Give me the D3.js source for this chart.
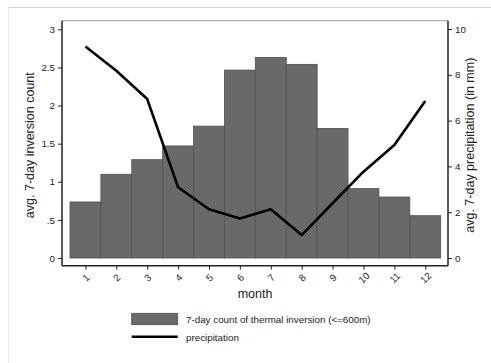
<!DOCTYPE html>
<html><head><meta charset="utf-8">
<script src="https://cdn.jsdelivr.net/npm/d3@7"></script>
<style>body{margin:0;background:#fff}svg{display:block;font-family:"Liberation Sans",Arial,sans-serif}</style>
</head><body>
<script>
const months = [1,2,3,4,5,6,7,8,9,10,11,12];
const inversion = [0.735,1.098,1.29,1.47,1.73,2.465,2.63,2.54,1.70,0.91,0.80,0.555];
const precipitation = [9.24,8.18,6.94,3.09,2.13,1.73,2.13,1.00,2.39,3.77,4.93,6.86];
const leftTicks = [0,0.5,1,1.5,2,2.5,3];
const leftTickLabels = ["0",".5","1","1.5","2","2.5","3"];
const rightTicks = [0,2,4,6,8,10];

const W=491,H=363;
const svg=d3.select("body").append("svg").attr("width",W).attr("height",H);
// outer faint frame
svg.append("line").attr("x1",8).attr("x2",W).attr("y1",7.5).attr("y2",7.5).attr("stroke","#d8d8d8");
svg.append("line").attr("x1",8.5).attr("x2",8.5).attr("y1",7).attr("y2",H).attr("stroke","#ececec");

const px0=62,px1=448,py0=20.7,py1=265.7;
const x=d3.scaleLinear().domain([0.5,12.5]).range([70,440.7]);
const yL=d3.scaleLinear().domain([0,3]).range([258,29.3]);
const yR=d3.scaleLinear().domain([0,10]).range([258,29]);

// plot frame top thin
svg.append("line").attr("x1",px0).attr("x2",px1).attr("y1",py0).attr("y2",py0).attr("stroke","#999").attr("stroke-width",1);

// bars
const bw=x(1.5)-x(0.5);
svg.append("g").selectAll("rect").data(months).join("rect")
  .attr("x",d=>x(d)-bw/2).attr("width",bw)
  .attr("y",(d,i)=>yL(inversion[i])).attr("height",(d,i)=>yL(0)-yL(inversion[i]))
  .attr("fill","#696969").attr("stroke","#505050").attr("stroke-width",0.8);

// line
svg.append("path").datum(months).attr("fill","none").attr("stroke","#000").attr("stroke-width",2.6)
  .attr("stroke-linejoin","round")
  .attr("d",d3.line().x(d=>x(d)).y((d,i)=>yR(precipitation[i])));

// axes
const gL=svg.append("g").attr("transform",`translate(${px0},0)`)
  .call(d3.axisLeft(yL).tickValues(leftTicks).tickFormat((d,i)=>leftTickLabels[i]).tickSize(4).tickPadding(3));
gL.select(".domain").attr("d",`M0,${py0}V${py1}`).attr("stroke","#222").attr("stroke-width",1.5);
const gR=svg.append("g").attr("transform",`translate(${px1},0)`)
  .call(d3.axisRight(yR).tickValues(rightTicks).tickSize(4).tickPadding(3));
gR.select(".domain").attr("d",`M0,${py0}V${py1}`).attr("stroke","#222").attr("stroke-width",1.5);
const gB=svg.append("g").attr("transform",`translate(0,${py1})`)
  .call(d3.axisBottom(x).tickValues(months).tickSize(4).tickPadding(3));
gB.select(".domain").attr("d",`M${px0},0H${px1}`).attr("stroke","#222").attr("stroke-width",1.5);
[gL,gR,gB].forEach(g=>{g.selectAll("text").attr("font-size",9.8).attr("fill","#222").attr("font-family","Liberation Sans, Arial, sans-serif");g.selectAll(".tick line").attr("stroke","#222");});
gB.selectAll("text").attr("text-anchor","middle").attr("y",0).attr("dy","0.35em")
  .attr("transform","translate(0,12) rotate(-45)");

// titles
svg.append("text").attr("x",255).attr("y",298).attr("text-anchor","middle").attr("font-size",12.5).attr("fill","#222").text("month");
svg.append("text").attr("transform",`translate(34,${(py0+py1)/2+2}) rotate(-90)`).attr("text-anchor","middle").attr("font-size",12.5).attr("fill","#222").text("avg. 7-day inversion count");
svg.append("text").attr("transform",`translate(474,${(py0+py1)/2+2}) rotate(-90)`).attr("text-anchor","middle").attr("font-size",12.5).attr("fill","#222").text("avg. 7-day precipitation (in mm)");

// legend
svg.append("rect").attr("x",131.7).attr("y",313.3).attr("width",46).attr("height",11.4).attr("fill","#696969").attr("stroke","#505050").attr("stroke-width",0.8);
svg.append("text").attr("x",186).attr("y",322.5).attr("font-size",9.8).attr("fill","#222").text("7-day count of thermal inversion (<=600m)");
svg.append("line").attr("x1",131.7).attr("x2",177.7).attr("y1",336.7).attr("y2",336.7).attr("stroke","#000").attr("stroke-width",2.6);
svg.append("text").attr("x",186).attr("y",340.5).attr("font-size",9.8).attr("fill","#222").text("precipitation");
</script>
</body></html>
